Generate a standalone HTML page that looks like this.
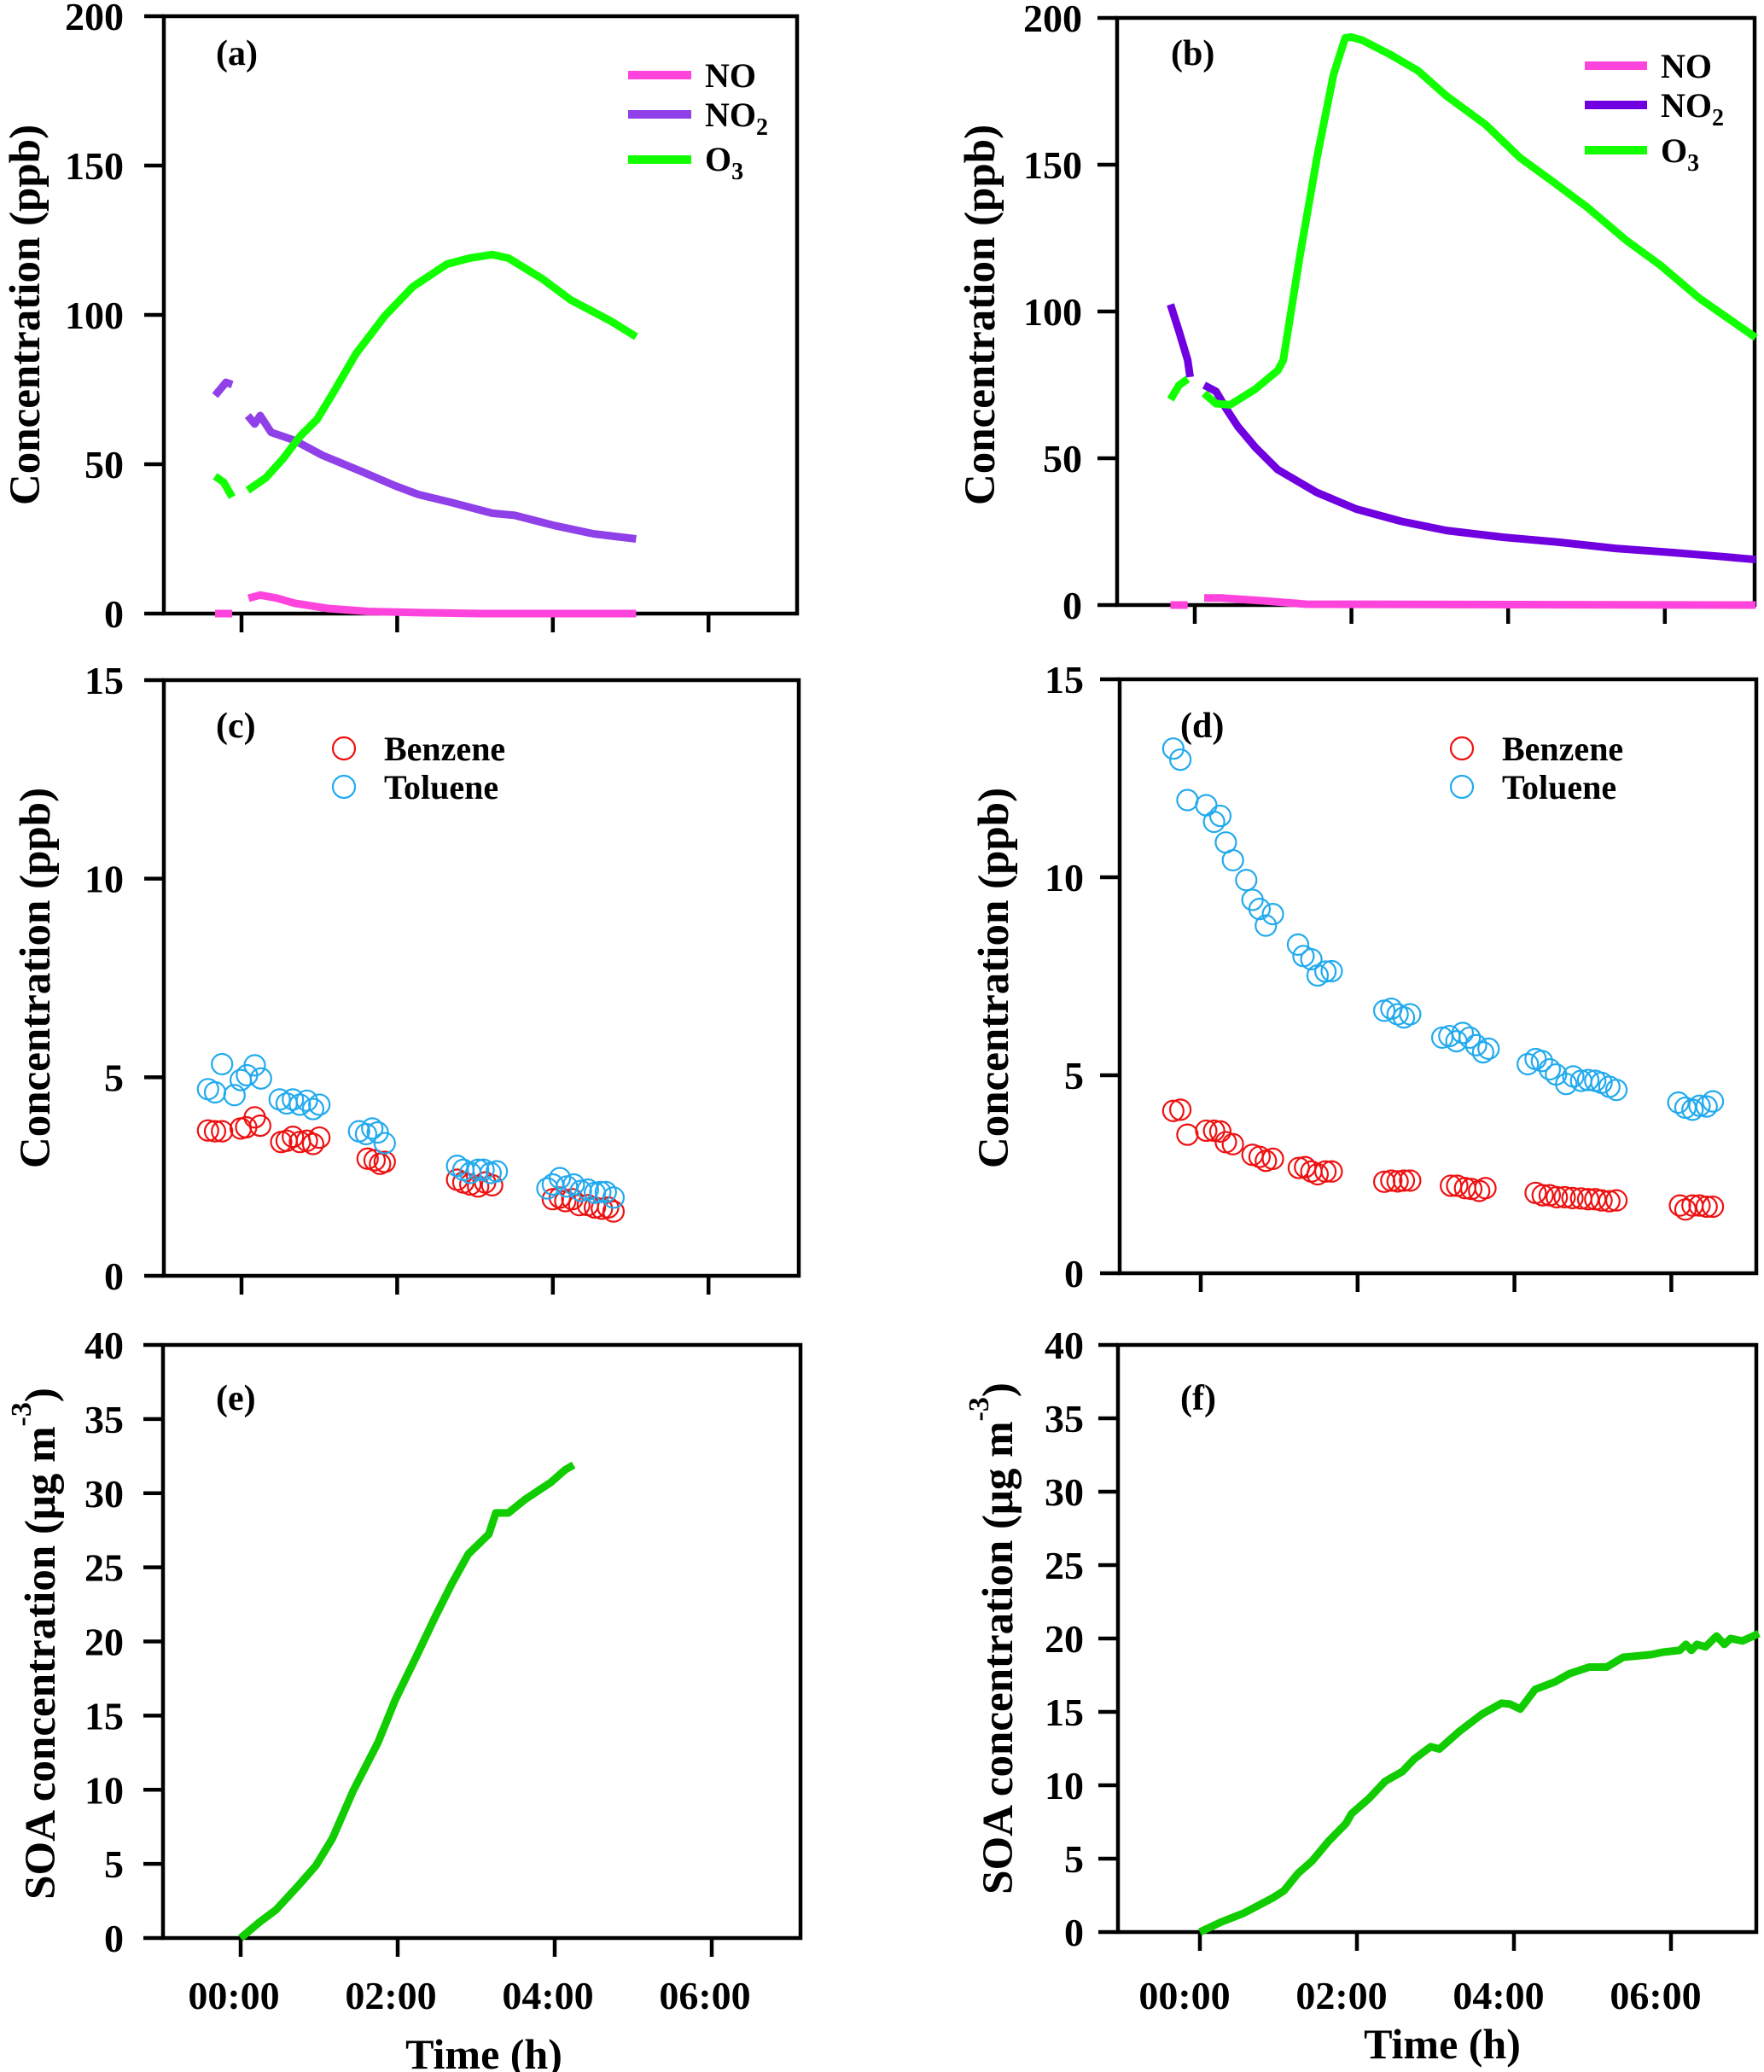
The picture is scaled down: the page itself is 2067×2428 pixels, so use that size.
<!DOCTYPE html>
<html><head><meta charset="utf-8"><style>
html,body{margin:0;padding:0;background:#fff;}
svg{display:block;}
text{font-family:"Liberation Serif",serif;font-weight:bold;fill:#000;}
</style></head><body>
<svg id="fig" width="2067" height="2428" viewBox="0 0 2067 2428" xmlns="http://www.w3.org/2000/svg"></svg>
<script>
// ---- data (hours, values) ----
const aNO_t1=[-0.34,-0.12]; const aNO_v1=[0,0];
const aNO_t2=[0.09,0.24,0.46,0.68,1.11,1.62,2.35,3.07,5.07]; const aNO_v2=[5.1,6.2,5.1,3.5,1.7,0.7,0.3,0,0];
const aNO2_t1=[-0.34,-0.2,-0.12]; const aNO2_v1=[73,77.4,76.7];
const aNO2_t2=[0.08,0.17,0.24,0.38,0.68,1.04,1.55,1.98,2.27,2.71,3.22,3.51,4.02,4.52,5.07];
const aNO2_v2=[66.3,63.5,66.3,60.7,58,53,47.5,42.7,39.9,37.1,33.6,32.9,29.5,26.7,25];
const aO3_t1=[-0.34,-0.23,-0.12]; const aO3_v1=[46,44,39];
const aO3_t2=[0.08,0.31,0.53,0.75,0.97,1.18,1.47,1.84,2.2,2.64,2.93,3.22,3.43,3.87,4.23,4.74,5.07];
const aO3_v2=[41.3,45.4,51.7,59.3,65,74,87,99.6,109.4,117,119,120.2,119,112,105,98,92.7];

const bNO_t1=[-0.31,-0.09]; const bNO_v1=[0,0];
const bNO_t2=[0.12,0.34,0.91,1.42,7.16]; const bNO_v2=[2.4,2.4,1.4,0.3,0];
const bNO2_t1=[-0.31,-0.2,-0.09,-0.06]; const bNO2_v1=[102.4,93.2,83.4,77.7];
const bNO2_t2=[0.12,0.27,0.41,0.55,0.77,1.06,1.56,2.06,2.64,3.21,3.93,4.65,5.37,6.08,6.73,7.16];
const bNO2_v2=[74.9,72.8,66.5,60.8,53.8,46.1,38.3,32.7,28.5,25.4,23.1,21.4,19.3,17.9,16.5,15.5];
const bO3_t1=[-0.31,-0.2,-0.09]; const bO3_v1=[70,74.9,77];
const bO3_t2=[0.12,0.27,0.45,0.77,1.06,1.13,1.34,1.56,1.77,1.92,1.99,2.13,2.49,2.85,3.21,3.71,4.15,4.51,5.01,5.51,5.94,6.44,7.16];
const bO3_v2=[72.1,68.6,68.2,73.5,79.9,83.4,118.6,152.4,180.6,193.2,193.5,192.5,187.6,182,173.5,163.7,152.4,145.4,135.5,124.2,115.8,104.5,91.1];

const cBen_t=[-0.43,-0.34,-0.25,-0.01,0.06,0.17,0.24,0.51,0.58,0.66,0.75,0.84,0.92,1.0,1.62,1.71,1.78,1.84,2.77,2.85,2.94,3.04,3.13,3.22,4.0,4.09,4.16,4.25,4.34,4.45,4.54,4.63,4.71,4.78];
const cBen_v=[3.66,3.64,3.64,3.71,3.74,3.99,3.78,3.37,3.40,3.50,3.37,3.40,3.32,3.48,2.95,2.91,2.82,2.87,2.42,2.35,2.30,2.25,2.35,2.28,1.93,1.97,1.88,1.93,1.78,1.78,1.72,1.69,1.72,1.62];
const cTol_t=[-0.43,-0.34,-0.25,-0.09,-0.01,0.07,0.17,0.25,0.49,0.58,0.66,0.75,0.84,0.92,1.0,1.51,1.6,1.68,1.75,1.84,2.77,2.85,2.94,3.04,3.11,3.2,3.28,3.93,4.0,4.09,4.18,4.27,4.36,4.45,4.54,4.61,4.68,4.78];
const cTol_v=[4.70,4.62,5.33,4.55,4.93,5.05,5.30,4.97,4.44,4.34,4.44,4.31,4.41,4.20,4.31,3.64,3.57,3.71,3.61,3.34,2.77,2.67,2.59,2.67,2.67,2.59,2.63,2.20,2.30,2.46,2.25,2.30,2.14,2.17,2.09,2.11,2.11,1.97];

const dTol_t=[-0.35,-0.26,-0.17,0.07,0.17,0.25,0.32,0.41,0.58,0.66,0.75,0.83,0.92,1.24,1.31,1.41,1.49,1.59,1.67,2.34,2.43,2.51,2.59,2.67,3.08,3.17,3.26,3.34,3.43,3.51,3.6,3.67,4.17,4.27,4.35,4.45,4.53,4.66,4.75,4.85,4.94,5.03,5.11,5.21,5.3,6.09,6.18,6.27,6.36,6.45,6.53];
const dTol_v=[13.25,12.97,11.95,11.82,11.4,11.55,10.88,10.43,9.93,9.43,9.2,8.78,9.07,8.3,8.01,7.93,7.52,7.62,7.63,6.63,6.68,6.54,6.46,6.54,5.95,5.99,5.86,6.07,5.95,5.76,5.58,5.67,5.28,5.41,5.36,5.15,5.02,4.78,4.97,4.86,4.88,4.86,4.81,4.71,4.63,4.31,4.18,4.13,4.23,4.21,4.34];
const dBen_t=[-0.35,-0.26,-0.17,0.07,0.17,0.25,0.32,0.41,0.66,0.75,0.83,0.92,1.25,1.33,1.41,1.49,1.59,1.67,2.34,2.43,2.51,2.59,2.67,3.19,3.27,3.37,3.45,3.55,3.63,4.27,4.36,4.45,4.54,4.64,4.74,4.85,4.94,5.03,5.11,5.21,5.3,6.11,6.18,6.27,6.36,6.45,6.53];
const dBen_v=[4.10,4.13,3.50,3.60,3.60,3.58,3.31,3.26,2.99,2.94,2.84,2.89,2.66,2.68,2.57,2.50,2.57,2.57,2.31,2.34,2.32,2.34,2.34,2.21,2.21,2.15,2.13,2.08,2.15,2.03,1.97,1.97,1.92,1.92,1.9,1.89,1.87,1.87,1.84,1.82,1.84,1.71,1.61,1.71,1.71,1.68,1.68];

const eSOA_t=[0,0.24,0.45,0.74,0.96,1.17,1.43,1.75,1.97,2.26,2.47,2.69,2.9,3.16,3.25,3.41,3.62,3.95,4.13,4.24];
const eSOA_v=[0,1.07,1.9,3.57,4.9,6.73,9.9,13.2,16.07,19.23,21.57,23.9,25.9,27.23,28.67,28.67,29.57,30.73,31.57,31.9];
const fSOA_t=[0,0.27,0.56,0.92,1.07,1.25,1.43,1.64,1.86,1.93,2.15,2.36,2.58,2.73,2.94,3.05,3.3,3.59,3.84,3.95,4.08,4.27,4.52,4.71,4.96,5.18,5.39,5.75,5.9,6.11,6.19,6.26,6.33,6.44,6.58,6.68,6.76,6.91,7.12];
const fSOA_v=[0,0.68,1.29,2.3,2.81,4.0,4.85,6.2,7.39,8.06,9.08,10.27,10.94,11.79,12.63,12.47,13.65,14.84,15.59,15.53,15.19,16.53,17.04,17.61,18.05,18.05,18.72,18.9,19.07,19.19,19.6,19.19,19.6,19.43,20.17,19.6,20.0,19.83,20.34];

const xTickHours=[0,2,4,6];
const xTickLabels=["00:00","02:00","04:00","06:00"];
const concTicks=[0,50,100,150,200];
const vocTicks=[0,5,10,15];
const soaTicks=[0,5,10,15,20,25,30,35,40];

const NS="http://www.w3.org/2000/svg";
const svg=document.getElementById('fig');
function mk(tag,attrs,parent){const e=document.createElementNS(NS,tag);for(const k in attrs)e.setAttribute(k,attrs[k]);(parent||svg).appendChild(e);return e;}

function panel(id,L,R,T,B,x0,pph,ymax,ticks,tickLabX){
  const g=mk('g',{});
  
  
  const P={g:g,X:h=>x0+h*pph,Y:v=>B-(v/ymax)*(B-T)};
  const fr=mk('rect',{x:L,y:T,width:R-L,height:B-T,fill:'none',stroke:'#000','stroke-width':4.5},g);
  
  
  ticks.forEach(v=>{
    const y=P.Y(v);
    const tl=mk('line',{x1:L-23,x2:L,y1:y,y2:y,stroke:'#000','stroke-width':4.5},g);
    
    
    const tt=mk('text',{x:tickLabX,y:y+16,'text-anchor':'end','font-size':46},g);
    tt.textContent=v;
    
    
  });
  xTickHours.forEach(h=>{
    const x=P.X(h);
    const xl=mk('line',{x1:x,x2:x,y1:B,y2:B+22,stroke:'#000','stroke-width':4.5},g);
    
    
  });
  return P;
}
function line(P,ts,vs,color,name,w){
  const d=ts.map((t,i)=>(i?'L':'M')+P.X(t).toFixed(1)+','+P.Y(vs[i]).toFixed(1)).join(' ');
  const p=mk('path',{d:d,fill:'none',stroke:color,'stroke-width':w||9,'stroke-linejoin':'round','stroke-linecap':'butt'},P.g);
  
  
}
function scatter(P,ts,vs,color,name){
  ts.forEach((t,i)=>{
    const c=mk('circle',{cx:P.X(t),cy:P.Y(vs[i]),r:12,fill:'none',stroke:color,'stroke-width':2.2},P.g);
    
    
  });
}
function txt(x,y,s,size,name,extra){
  const t=mk('text',Object.assign({x:x,y:y,'font-size':size},extra||{}));
  t.innerHTML=s;
  
  
  return t;
}
function legLine(x1,x2,y,color,name){
  const l=mk('line',{x1:x1,x2:x2,y1:y,y2:y,stroke:color,'stroke-width':10});
  
  
}
function legCirc(x,y,color,name){
  const c=mk('circle',{cx:x,cy:y,r:13,fill:'none',stroke:color,'stroke-width':2.2});
  
  
}

const cNO='#ff44dd',cO3='#11ff00',cSOA='#11cc00',cBen='#ee1111',cTol='#22aaee';

// panel a
const A=panel('a',192,934,19,719,283,91.2,200,concTicks,145);
line(A,aNO_t1,aNO_v1,cNO,'no-line-a-pre');line(A,aNO_t2,aNO_v2,cNO,'no-line-a');
line(A,aNO2_t1,aNO2_v1,'#9040e8','no2-line-a-pre');line(A,aNO2_t2,aNO2_v2,'#9040e8','no2-line-a');
line(A,aO3_t1,aO3_v1,cO3,'o3-line-a-pre');line(A,aO3_t2,aO3_v2,cO3,'o3-line-a');
// panel b
const Bp=panel('b',1309,2056,21,709,1400,91.8,200,concTicks,1268);
line(Bp,bNO_t1,bNO_v1,cNO,'no-line-b-pre');line(Bp,bNO_t2,bNO_v2,cNO,'no-line-b');
line(Bp,bNO2_t1,bNO2_v1,'#7000e0','no2-line-b-pre');line(Bp,bNO2_t2,bNO2_v2,'#7000e0','no2-line-b');
line(Bp,bO3_t1,bO3_v1,cO3,'o3-line-b-pre');line(Bp,bO3_t2,bO3_v2,cO3,'o3-line-b');
// panel c
const C=panel('c',192,936,797,1495,283,91.2,15,vocTicks,145);
scatter(C,cBen_t,cBen_v,cBen,'benzene-point-c');
scatter(C,cTol_t,cTol_v,cTol,'toluene-point-c');
// panel d
const D=panel('d',1312,2058,796,1492,1407,91.9,15,vocTicks,1270);
scatter(D,dBen_t,dBen_v,cBen,'benzene-point-d');
scatter(D,dTol_t,dTol_v,cTol,'toluene-point-d');
// panel e
const E=panel('e',191,938,1576,2271,282,92,40,soaTicks,145);
line(E,eSOA_t,eSOA_v,cSOA,'soa-line-e');
// panel f
const F=panel('f',1310,2058,1576,2264,1406,92,40,soaTicks,1270);
line(F,fSOA_t,fSOA_v,cSOA,'soa-line-f');

// x tick labels for e, f
xTickHours.forEach((h,i)=>{
  txt(E.X(h)-8,2354,xTickLabels[i],46,'x-tick-label-e',{'text-anchor':'middle'});
  txt(F.X(h)-18,2354,xTickLabels[i],46,'x-tick-label-f',{'text-anchor':'middle'});
});
txt(567,2424,'Time (h)',50,'x-axis-title-e',{'text-anchor':'middle'});
txt(1690,2412,'Time (h)',50,'x-axis-title-f',{'text-anchor':'middle'});

// panel labels
txt(253,76,'(a)',42,'panel-label-a');
txt(1372,76,'(b)',42,'panel-label-b');
txt(253,864,'(c)',42,'panel-label-c');
txt(1383,864,'(d)',42,'panel-label-d');
txt(253,1652,'(e)',42,'panel-label-e');
txt(1383,1652,'(f)',42,'panel-label-f');

// y axis titles
function ytitle(x,y,s,name){const t=txt(0,0,s,51,name,{'text-anchor':'middle',transform:'translate('+x+','+y+') rotate(-90)'});}
ytitle(46,369,'Concentration (ppb)','y-axis-title-a');
ytitle(1165,369,'Concentration (ppb)','y-axis-title-b');
ytitle(58,1146,'Concentration (ppb)','y-axis-title-c');
ytitle(1181,1146,'Concentration (ppb)','y-axis-title-d');
ytitle(64,1926,'SOA concentration (μg m<tspan font-size="34" dy="-28">-3</tspan><tspan dy="28">)</tspan>','y-axis-title-e');
ytitle(1186,1920,'SOA concentration (μg m<tspan font-size="34" dy="-28">-3</tspan><tspan dy="28">)</tspan>','y-axis-title-f');

// legends a
legLine(736,810,88,cNO,'legend-no-line-a');txt(826,102,'NO',40,'legend-no-a');
legLine(736,810,134,'#9040e8','legend-no2-line-a');txt(826,148,'NO<tspan font-size="28" dy="10">2</tspan>',40,'legend-no2-a');
legLine(736,810,187,cO3,'legend-o3-line-a');txt(826,200,'O<tspan font-size="28" dy="10">3</tspan>',40,'legend-o3-a');
// legends b
legLine(1857,1930,77,cNO,'legend-no-line-b');txt(1946,91,'NO',40,'legend-no-b');
legLine(1857,1930,123,'#7000e0','legend-no2-line-b');txt(1946,137,'NO<tspan font-size="28" dy="10">2</tspan>',40,'legend-no2-b');
legLine(1857,1930,176,cO3,'legend-o3-line-b');txt(1946,190,'O<tspan font-size="28" dy="10">3</tspan>',40,'legend-o3-b');
// legends c,d
legCirc(403,877,cBen,'legend-benzene-marker-c');txt(450,891,'Benzene',40,'legend-benzene-c');
legCirc(403,922,cTol,'legend-toluene-marker-c');txt(450,936,'Toluene',40,'legend-toluene-c');
legCirc(1713,877,cBen,'legend-benzene-marker-d');txt(1760,891,'Benzene',40,'legend-benzene-d');
legCirc(1713,922,cTol,'legend-toluene-marker-d');txt(1760,936,'Toluene',40,'legend-toluene-d');
</script>
</body></html>
